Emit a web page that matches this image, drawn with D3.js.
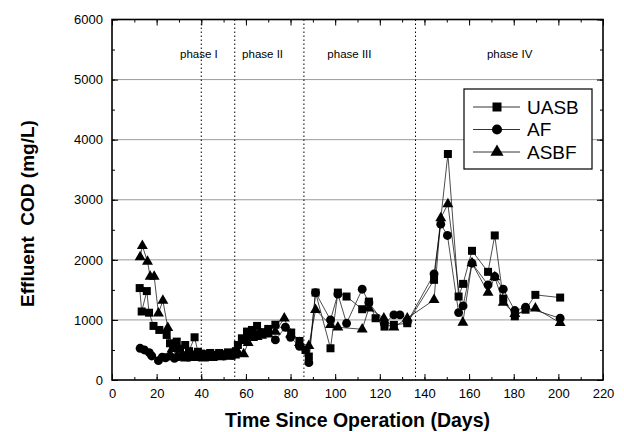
<!DOCTYPE html>
<html>
<head>
<meta charset="utf-8">
<script src="https://cdn.jsdelivr.net/npm/d3@7"></script>
<style>
  body { margin: 0; background: #fff; }
  svg { font-family: Arial, "Liberation Sans", sans-serif; }
</style>
</head>
<body>
<div id="chart"></div>
<script>
// effluent COD (mg/L) vs day
const uasbDays = [12.4, 13.3, 15.6, 16.6, 18.6, 21.2, 24.5, 26, 27.5, 29, 30.5, 32.8, 34.5, 37, 38.5, 40, 42, 44, 46, 48, 50, 52, 54, 55.5, 56.4, 58.2, 60.5, 62.7, 65, 68.3, 70, 73.2, 80.3, 84, 86.7, 88.2, 91.2, 97.9, 101.2, 105.1, 112.1, 115.1, 118.1, 122.1, 126.3, 132.3, 144.3, 150.5, 155.3, 157.3, 161.3, 168.5, 171.5, 175.3, 180.5, 185.3, 189.7, 200.8];
const uasbCod = [1530, 1140, 1480, 1120, 900, 833, 750, 611, 560, 639, 520, 583, 480, 711, 470, 440, 430, 450, 420, 450, 430, 460, 440, 480, 583, 694, 806, 833, 900, 780, 850, 920, 790, 650, 500, 390, 1455, 528, 1455, 1389, 1178, 1305, 1028, 889, 917, 945, 1667, 3761, 1389, 1600, 2150, 1800, 2406, 1355, 1060, 1170, 1417, 1372];

const afDays = [12.6, 14.5, 16.7, 17.8, 20.8, 22.5, 24, 26, 28, 30, 32, 34, 36, 38, 40, 42, 44, 46, 48, 50, 52, 54, 56, 59, 61, 63, 65, 67, 69, 73.2, 77.7, 80, 84, 88.2, 91.2, 97.9, 101.2, 105.1, 112.1, 115.1, 122, 126.3, 129, 132.3, 144.3, 147.3, 150.3, 155.3, 157.3, 161.3, 168.5, 171.5, 175.3, 180.5, 185.3, 200.8];
const afCod = [528, 500, 456, 400, 322, 380, 370, 400, 360, 390, 410, 380, 420, 390, 420, 400, 430, 390, 420, 400, 430, 410, 450, 667, 720, 740, 760, 790, 800, 667, 878, 711, 560, 289, 1455, 1000, 1430, 944, 1511, 1290, 940, 1083, 1083, 960, 1767, 2594, 2406, 1122, 1233, 1944, 1583, 1722, 1511, 1156, 1211, 1028];

const asbfDays = [12.6, 13.6, 15.9, 17.1, 18.9, 20.8, 22.8, 25, 27, 29, 31, 33, 35, 37, 39, 41, 43, 45, 47, 49, 51, 53, 55, 59, 61, 63, 65, 67, 70, 73.2, 77.2, 80, 84, 88.2, 91.2, 97.9, 101.2, 112.1, 115.1, 121.8, 126.3, 132.3, 144.3, 147.3, 150.5, 157.2, 161.3, 168.5, 171.5, 175.3, 180.5, 189.7, 200.8];
const asbfCod = [2045, 2233, 1972, 1722, 1722, 1111, 1322, 870, 520, 400, 380, 360, 400, 370, 380, 360, 390, 370, 390, 380, 400, 390, 410, 433, 620, 700, 720, 740, 760, 806, 1028, 760, 620, 567, 1167, 917, 878, 844, 1194, 1028, 878, 1028, 1333, 2694, 2928, 956, 1944, 1456, 1711, 1289, 1100, 1194, 950];

const phaseBounds = [40, 55, 86, 136];
const phaseNames = ["phase I", "phase II", "phase III", "phase IV"];
const phaseLabelDay = [30.5, 58.3, 96.5, 168];

const xTicks = [0, 20, 40, 60, 80, 100, 120, 140, 160, 180, 200, 220];
const yTicks = [0, 1000, 2000, 3000, 4000, 5000, 6000];

const series = [
    { name: "UASB", shape: "square", days: uasbDays, vals: uasbCod },
    { name: "AF", shape: "circle", days: afDays, vals: afCod },
    { name: "ASBF", shape: "triangle", days: asbfDays, vals: asbfCod }
];

const W = 624, H = 432;
const plotL = 112, plotR = 603, plotT = 19.5, plotB = 380;

let svg = d3.select("#chart").append("svg")
    .attr("width", W)
    .attr("height", H);

let x = d3.scaleLinear().domain([0, 220]).range([plotL, plotR]);
let y = d3.scaleLinear().domain([0, 6000]).range([plotB, plotT]);

// horizontal grid
svg.append("g").selectAll("line")
    .data(yTicks.filter(d => d > 0 && d < 6000))
    .enter().append("line")
    .attr("x1", plotL).attr("x2", plotR)
    .attr("y1", d => y(d)).attr("y2", d => y(d))
    .attr("stroke", "#808080")
    .attr("stroke-width", 0.8);

// phase boundaries
svg.append("g").selectAll("line")
    .data(phaseBounds)
    .enter().append("line")
    .attr("x1", d => x(d)).attr("x2", d => x(d))
    .attr("y1", plotT).attr("y2", plotB)
    .attr("stroke", "#000")
    .attr("stroke-width", 1)
    .attr("stroke-dasharray", "1.5,2.5");

svg.append("g").selectAll("text")
    .data(phaseNames)
    .enter().append("text")
    .attr("x", (d, i) => x(phaseLabelDay[i]))
    .attr("y", 58)
    .attr("font-size", "11.5px")
    .text(d => d);

// axes, ticks inward
function styleAxis(g) {
    g.select(".domain").remove();
    g.selectAll(".tick line").attr("stroke", "#000").attr("stroke-width", 1);
    g.selectAll("text").attr("font-size", "13px").attr("fill", "#000")
        .attr("font-family", "Arial, 'Liberation Sans', sans-serif");
}
let minorX = d3.range(0, 221, 10), minorY = d3.range(0, 6001, 500);

svg.append("g").attr("transform", `translate(0,${plotB})`)
    .call(d3.axisBottom(x).tickValues(minorX).tickSize(-3).tickFormat(""))
    .call(styleAxis);
svg.append("g").attr("transform", `translate(0,${plotB})`)
    .call(d3.axisBottom(x).tickValues(xTicks).tickSize(-6).tickPadding(9).tickFormat(d3.format("d")))
    .call(styleAxis);
svg.append("g").attr("transform", `translate(0,${plotT})`)
    .call(d3.axisTop(x).tickValues(minorX).tickSize(-3).tickFormat(""))
    .call(styleAxis);
svg.append("g").attr("transform", `translate(0,${plotT})`)
    .call(d3.axisTop(x).tickValues(xTicks).tickSize(-6).tickFormat(""))
    .call(styleAxis);

svg.append("g").attr("transform", `translate(${plotL},0)`)
    .call(d3.axisLeft(y).tickValues(minorY).tickSize(-3).tickFormat(""))
    .call(styleAxis);
svg.append("g").attr("transform", `translate(${plotL},0)`)
    .call(d3.axisLeft(y).tickValues(yTicks).tickSize(-6).tickPadding(9).tickFormat(d3.format("d")))
    .call(styleAxis);
svg.append("g").attr("transform", `translate(${plotR},0)`)
    .call(d3.axisRight(y).tickValues(minorY).tickSize(-3).tickFormat(""))
    .call(styleAxis);
svg.append("g").attr("transform", `translate(${plotR},0)`)
    .call(d3.axisRight(y).tickValues(yTicks).tickSize(-6).tickFormat(""))
    .call(styleAxis);

// frame
svg.append("rect")
    .attr("x", plotL).attr("y", plotT)
    .attr("width", plotR - plotL).attr("height", plotB - plotT)
    .attr("fill", "none")
    .attr("stroke", "#000")
    .attr("stroke-width", 1.6);

// markers
let symbols = {
    square: d3.symbol().type(d3.symbolSquare).size(64),
    circle: d3.symbol().type(d3.symbolCircle).size(62),
    triangle: d3.symbol().type(d3.symbolTriangle).size(52)
};

let line = d3.line().x(d => x(d[0])).y(d => y(d[1]));

series.forEach(s => {
    let pts = s.days.map((d, i) => [d, s.vals[i]]);
    svg.append("path")
        .datum(pts)
        .attr("d", line)
        .attr("fill", "none")
        .attr("stroke", "#000")
        .attr("stroke-width", 0.7);
    svg.append("g").selectAll("path")
        .data(pts)
        .enter().append("path")
        .attr("d", symbols[s.shape])
        .attr("transform", d => `translate(${x(d[0])},${y(d[1])})`)
        .attr("fill", "#000");
});

// legend
let lg = svg.append("g");
lg.append("rect")
    .attr("x", 464).attr("y", 89)
    .attr("width", 128).attr("height", 80)
    .attr("fill", "#fff")
    .attr("stroke", "#000")
    .attr("stroke-width", 1.2);
let legendSymbols = {
    square: d3.symbol().type(d3.symbolSquare).size(81),
    circle: d3.symbol().type(d3.symbolCircle).size(80),
    triangle: d3.symbol().type(d3.symbolTriangle).size(75)
};
series.forEach((s, i) => {
    let yy = 107 + i * 22.5;
    lg.append("line")
        .attr("x1", 473).attr("x2", 520)
        .attr("y1", yy).attr("y2", yy)
        .attr("stroke", "#000").attr("stroke-width", 0.8);
    lg.append("path")
        .attr("d", legendSymbols[s.shape])
        .attr("transform", `translate(497,${yy})`)
        .attr("fill", "#000");
    lg.append("text")
        .attr("x", 527).attr("y", yy)
        .attr("dy", "0.36em")
        .attr("font-size", "19px")
        .text(s.name);
});

// axis titles
svg.append("text")
    .attr("x", (plotL + plotR) / 2)
    .attr("y", 427)
    .attr("text-anchor", "middle")
    .attr("font-size", "19.5px")
    .attr("font-weight", "bold")
    .text("Time Since Operation (Days)");

svg.append("text")
    .attr("transform", "translate(33.5,213.5) rotate(-90)")
    .attr("text-anchor", "middle")
    .attr("font-size", "19px")
    .attr("font-weight", "bold")
    .style("white-space", "pre")
    .text("Effluent  COD (mg/L)");
</script>
</body>
</html>
